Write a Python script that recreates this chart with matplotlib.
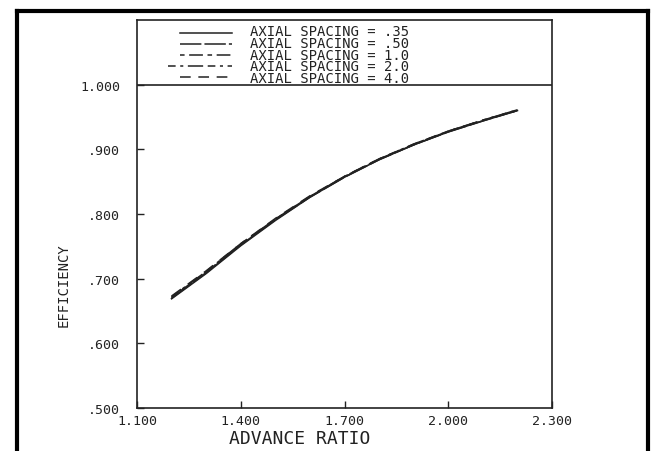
import numpy as np
import matplotlib.pyplot as plt
from matplotlib.lines import Line2D

# advance ratio and efficiency for each axial spacing
advance = [1.20, 1.30, 1.40, 1.50, 1.60, 1.70, 1.80, 1.90, 2.00, 2.10, 2.20]
eff_035 = [0.669, 0.708, 0.751, 0.790, 0.826, 0.857, 0.884, 0.907, 0.927, 0.944, 0.960]
eff_050 = [0.670, 0.709, 0.752, 0.791, 0.826, 0.857, 0.884, 0.907, 0.927, 0.944, 0.960]
eff_100 = [0.671, 0.710, 0.753, 0.792, 0.827, 0.858, 0.885, 0.907, 0.928, 0.945, 0.960]
eff_200 = [0.672, 0.711, 0.754, 0.792, 0.827, 0.858, 0.885, 0.908, 0.928, 0.945, 0.961]
eff_400 = [0.673, 0.712, 0.754, 0.793, 0.828, 0.858, 0.885, 0.908, 0.928, 0.945, 0.961]

labels = ['AXIAL SPACING = .35', 'AXIAL SPACING = .50', 'AXIAL SPACING = 1.0',
          'AXIAL SPACING = 2.0', 'AXIAL SPACING = 4.0']
series = [eff_035, eff_050, eff_100, eff_200, eff_400]
styles = ['-', (0, (14, 2)), (0, (3, 3, 9, 3)), (0, (5, 3, 2, 3, 10, 3)), (0, (7, 5))]

xticks = [1.1, 1.4, 1.7, 2.0, 2.3]
xtick_labels = ['1.100', '1.400', '1.700', '2.000', '2.300']
yticks = [0.5, 0.6, 0.7, 0.8, 0.9, 1.0]
ytick_labels = ['.500', '.600', '.700', '.800', '.900', '1.000']

ink = '#222222'
mono = 'DejaVu Sans Mono'

fig = plt.figure(figsize=(6.57, 4.52), dpi=100)
ax = fig.add_axes([137 / 657, 1 - 409 / 452, 415 / 657, 388 / 452])

for eff, ls in zip(series, styles):
    ax.plot(advance, eff, color=ink, linestyle=ls, linewidth=1.2)

ax.set_xlim(1.1, 2.3)
ax.set_ylim(0.5, 1.1)
ax.axhline(1.0, color=ink, linewidth=1.2)

ax.set_xticks(xticks)
ax.set_xticklabels(xtick_labels, family=mono, fontsize=9.5, color=ink)
ax.set_yticks(yticks)
ax.set_yticklabels(ytick_labels, family=mono, fontsize=9.5, color=ink)
ax.tick_params(axis='both', direction='in', length=5, width=1, color=ink)
ax.tick_params(axis='x', pad=4)
ax.tick_params(axis='y', pad=12)
for sp in ax.spines.values():
    sp.set_color(ink)
    sp.set_linewidth(1.2)

# legend block drawn in the band above 1.000
row_px = 11.0
for i, ls in enumerate(styles):
    yp = 1.0 - (33 + row_px * i - 85) * 0.1 / 64.6
    x0 = 1.19 if i == 3 else 1.225
    ax.plot([x0, 1.375], [yp, yp], color=ink, linestyle=ls, linewidth=1.1)
ymid = 1.0 - (33 + row_px * 2 - 85) * 0.1 / 64.6
ax.text(1.427, ymid, '\n'.join(labels), family=mono, fontsize=10, color=ink,
        va='center', ha='left', linespacing=0.8)

fig.text(300 / 657, 1 - 439 / 452, 'ADVANCE RATIO', family=mono, fontsize=13,
         color=ink, ha='center', va='center')
fig.text(64 / 657, 1 - 285 / 452, 'EFFICIENCY', family=mono, fontsize=10,
         color=ink, ha='center', va='center', rotation=90)

# thick outer frame
fw = 3
fig.add_artist(Line2D([17 / 657, 17 / 657], [0, 1 - 12 / 452], color='black',
                      linewidth=fw, transform=fig.transFigure))
fig.add_artist(Line2D([648 / 657, 648 / 657], [0, 1 - 12 / 452], color='black',
                      linewidth=fw, transform=fig.transFigure))
fig.add_artist(Line2D([17 / 657, 648 / 657], [1 - 12 / 452, 1 - 12 / 452],
                      color='black', linewidth=fw, transform=fig.transFigure,
                      solid_capstyle='projecting'))

fig.savefig('out.png', dpi=100)
